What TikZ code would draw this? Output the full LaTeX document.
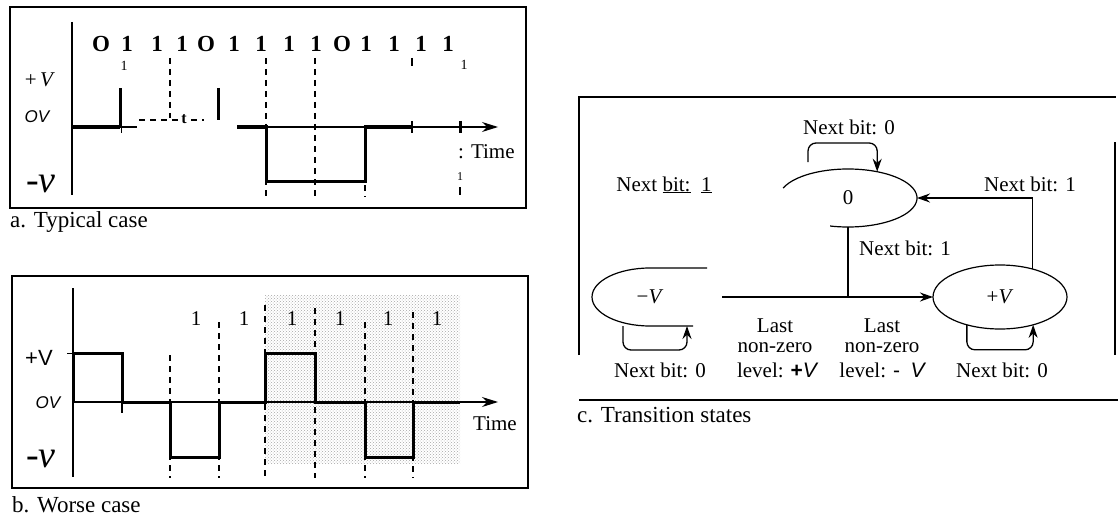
\documentclass[tikz,border=0pt]{standalone}
\usepackage{fontspec}
\setmainfont{Liberation Serif}
\newfontfamily\sansf{Liberation Sans}
\usetikzlibrary{arrows.meta,shapes.geometric,patterns}
\newcommand\fsCap{\fontsize{23}{27}\selectfont}
\newcommand\fsLab{\fontsize{21}{25}\selectfont}
\newcommand\fsBit{\fontsize{23}{27}\selectfont\bfseries}
\begin{document}
\begin{tikzpicture}[x=1pt,y=-1pt,
  frame/.style={line width=1.1pt},
  axisline/.style={line width=1.1pt},
  wave/.style={line width=3pt},
  dashln/.style={line width=1.2pt, dash pattern=on 6pt off 5pt},
  lbl/.style={inner sep=0pt, anchor=base},
  stline/.style={line width=1.2pt},
  stnode/.style={ellipse, inner sep=0pt, outer sep=0pt, font=\fsLab},
  conn/.style={line width=1.3pt, -{Stealth[length=13pt,width=9pt]}},
  axarrow/.style={axisline, -{Stealth[length=16pt,width=10pt]}}]
\useasboundingbox (0,0) rectangle (1118,516);

% ---------------- panel a ----------------
\draw[frame] (10,7) rectangle (526,208);
\draw[axisline] (72,22) -- (72,195);
\draw[axisline] (72,127) -- (137,127);
\draw[axarrow] (237,127) -- (498,127);
\node[lbl,font=\fontsize{21}{24}\selectfont] (apv) at (40,87) {+\,\textit{V}};
\node[lbl,font=\fontsize{17}{20}\selectfont\sansf\itshape] (aov) at (37,123) {OV};
\node[lbl,font=\fontsize{38}{40}\selectfont] (amv) at (41,192) {-\textit{v}};
\foreach \ch/\xx [count=\i] in {O/101,1/127,1/157,1/182,O/206,1/234,1/261,1/289,1/316,O/342,1/366,1/394,1/421,1/448}
  \node[lbl,font=\fsBit] (bit\i) at (\xx,52) {\ch};
\node[lbl,font=\fontsize{14}{16}\selectfont] (as1) at (124,71) {1};
\node[lbl,font=\fontsize{14}{16}\selectfont] (as2) at (464,70) {1};
\node[lbl,font=\fontsize{12}{14}\selectfont] (as3) at (460,180) {1};
\draw[wave] (72,127) -- (120,127);
\draw[wave] (120,127) -- (120,88);
\draw[line width=1pt] (121,127) -- (121,133);
\draw[dashln] (139,120) -- (178,120);
\draw[dashln] (191,120) -- (204,120);
\node[lbl,font=\fontsize{16}{18}\selectfont\bfseries] (at) at (184,124) {t};
\draw[dashln] (170,58) -- (170,118);
\draw[wave] (218,88) -- (218,120);
\draw[wave] (237,127) -- (266,127) -- (266,181) -- (365,181) -- (365,127) -- (412,127);
\draw[line width=1.6pt] (412,121) -- (412,133);
\draw[line width=3pt] (460,121) -- (460,133);
\draw[dashln] (266,58) -- (266,197);
\draw[dashln] (315,58) -- (315,197);
\draw[dashln] (365,185) -- (365,197);
\draw[line width=1.2pt] (412,58) -- (412,66);
\draw[line width=1.2pt] (460,187) -- (460,195);
\node[lbl,anchor=base west,font=\fontsize{21}{24}\selectfont] (atime) at (458,158) {: Time};
\node[lbl,anchor=base west,font=\fsCap] (capa) at (10,227) {a. Typical case};

% ---------------- panel b ----------------
\fill[pattern=crosshatch dots, pattern color=gray!70] (265,295) rectangle (460,463);
\draw[frame] (12,276) rectangle (528,488);
\draw[axisline] (73,288) -- (73,477);
\draw[axarrow] (73,402) -- (498,402);
\node[lbl,font=\fontsize{22}{25}\selectfont\sansf] (bpv) at (39,365) {+V};
\draw[line width=1pt] (67,353) -- (73,353);
\node[lbl,font=\fontsize{17}{20}\selectfont\sansf\itshape] (bov) at (48,408) {OV};
\node[lbl,font=\fontsize{38}{40}\selectfont] (bmv) at (41,467) {-\textit{v}};
\draw[wave] (73,402) -- (73,353) -- (122,353) -- (122,402) -- (170,402) -- (170,457) -- (219,457) -- (219,402) -- (265,402) -- (265,353) -- (315,353) -- (315,402) -- (365,402) -- (365,457) -- (413,457) -- (413,402) -- (460,402);
\draw[line width=1.6pt] (122,402) -- (122,413);
\draw[dashln] (170,355) -- (170,478);
\draw[dashln] (219,322) -- (219,478);
\draw[dashln] (265,305) -- (265,478);
\draw[dashln] (315,308) -- (315,478);
\draw[dashln] (365,322) -- (365,478);
\draw[dashln] (413,312) -- (413,478);
\foreach \xx [count=\i] in {196,244,292,340,388,437}
  \node[lbl,font=\fsLab] (bone\i) at (\xx,325) {1};
\node[lbl,font=\fontsize{21}{24}\selectfont] (btime) at (495,430) {Time};
\node[lbl,anchor=base west,font=\fsCap] (capb) at (12,512) {b. Worse case};

% ---------------- panel c ----------------
\draw[frame] (579,355) -- (579,97) -- (1116,97);
\draw[frame] (1115,142) -- (1115,355);
\draw[frame] (579,400) -- (1118,400);

\node[stnode, minimum width=138pt, minimum height=58pt] (zero) at (848,198) {0};
\draw[stline] ([shift={(-160:69 and 29)}]zero.center) arc[start angle=-160, end angle=105, x radius=69, y radius=29];
\node[stnode, minimum width=116pt, minimum height=58pt] (mv) at (650,297) {−\textit{V}};
\draw[stline] (707,268) -- (650,268) arc[start angle=-90, end angle=-270, x radius=58, y radius=29] -- (693,326);
\node[stnode, draw, line width=1.2pt, minimum width=134pt, minimum height=64pt] (pv) at (1000,297) {+\textit{V}};

\coordinate (zl) at (808,162);
\draw[conn, rounded corners=8pt] (zl) -- ++(0,-19) -| (zero.42);
\draw[conn] (pv.41) |- (zero.east);
\draw[stline] (zero.south) -- (zero.south |- pv.west);
\draw[conn] ([xshift=14pt]mv.east) -- (pv.west);
\draw[conn, rounded corners=8pt] ([xshift=-27pt]mv.south) -- ++(0,24) -| ([xshift=37pt]mv.south);
\draw[conn, rounded corners=8pt] (pv.220) -- ++(0,25) -| (pv.320);

\node[lbl,font=\fsLab] (t0) at (849,134) {Next bit: 0};
\node[lbl,font=\fsLab] (t1r) at (1030,191) {Next bit: 1};
\node[lbl,font=\fsLab] (t1m) at (905,255) {Next bit: 1};
\node[lbl,font=\fsLab] (t1l) at (664,191) {Next \underline{bit:}\ \ \underline{1}};
\node[lbl,font=\fsLab,align=center] (l1ab) at (775,352) {Last\\[-5pt]non-zero};
\node[lbl,font=\fsLab] (l1c) at (777,377) {level: {\sansf\bfseries +}{\sansf\itshape V}};
\node[lbl,font=\fsLab,align=center] (l2ab) at (882,352) {Last\\[-5pt]non-zero};
\node[lbl,font=\fsLab] (l2c) at (882,377) {level: {\sansf -}\ \ {\sansf\itshape V}};
\node[lbl,font=\fsLab] (b0l) at (660,377) {Next bit: 0};
\node[lbl,font=\fsLab] (b0r) at (1002,377) {Next bit: 0};
\node[lbl,anchor=base west,font=\fsCap] (capc) at (577,422) {c. Transition states};
\end{tikzpicture}
\end{document}
